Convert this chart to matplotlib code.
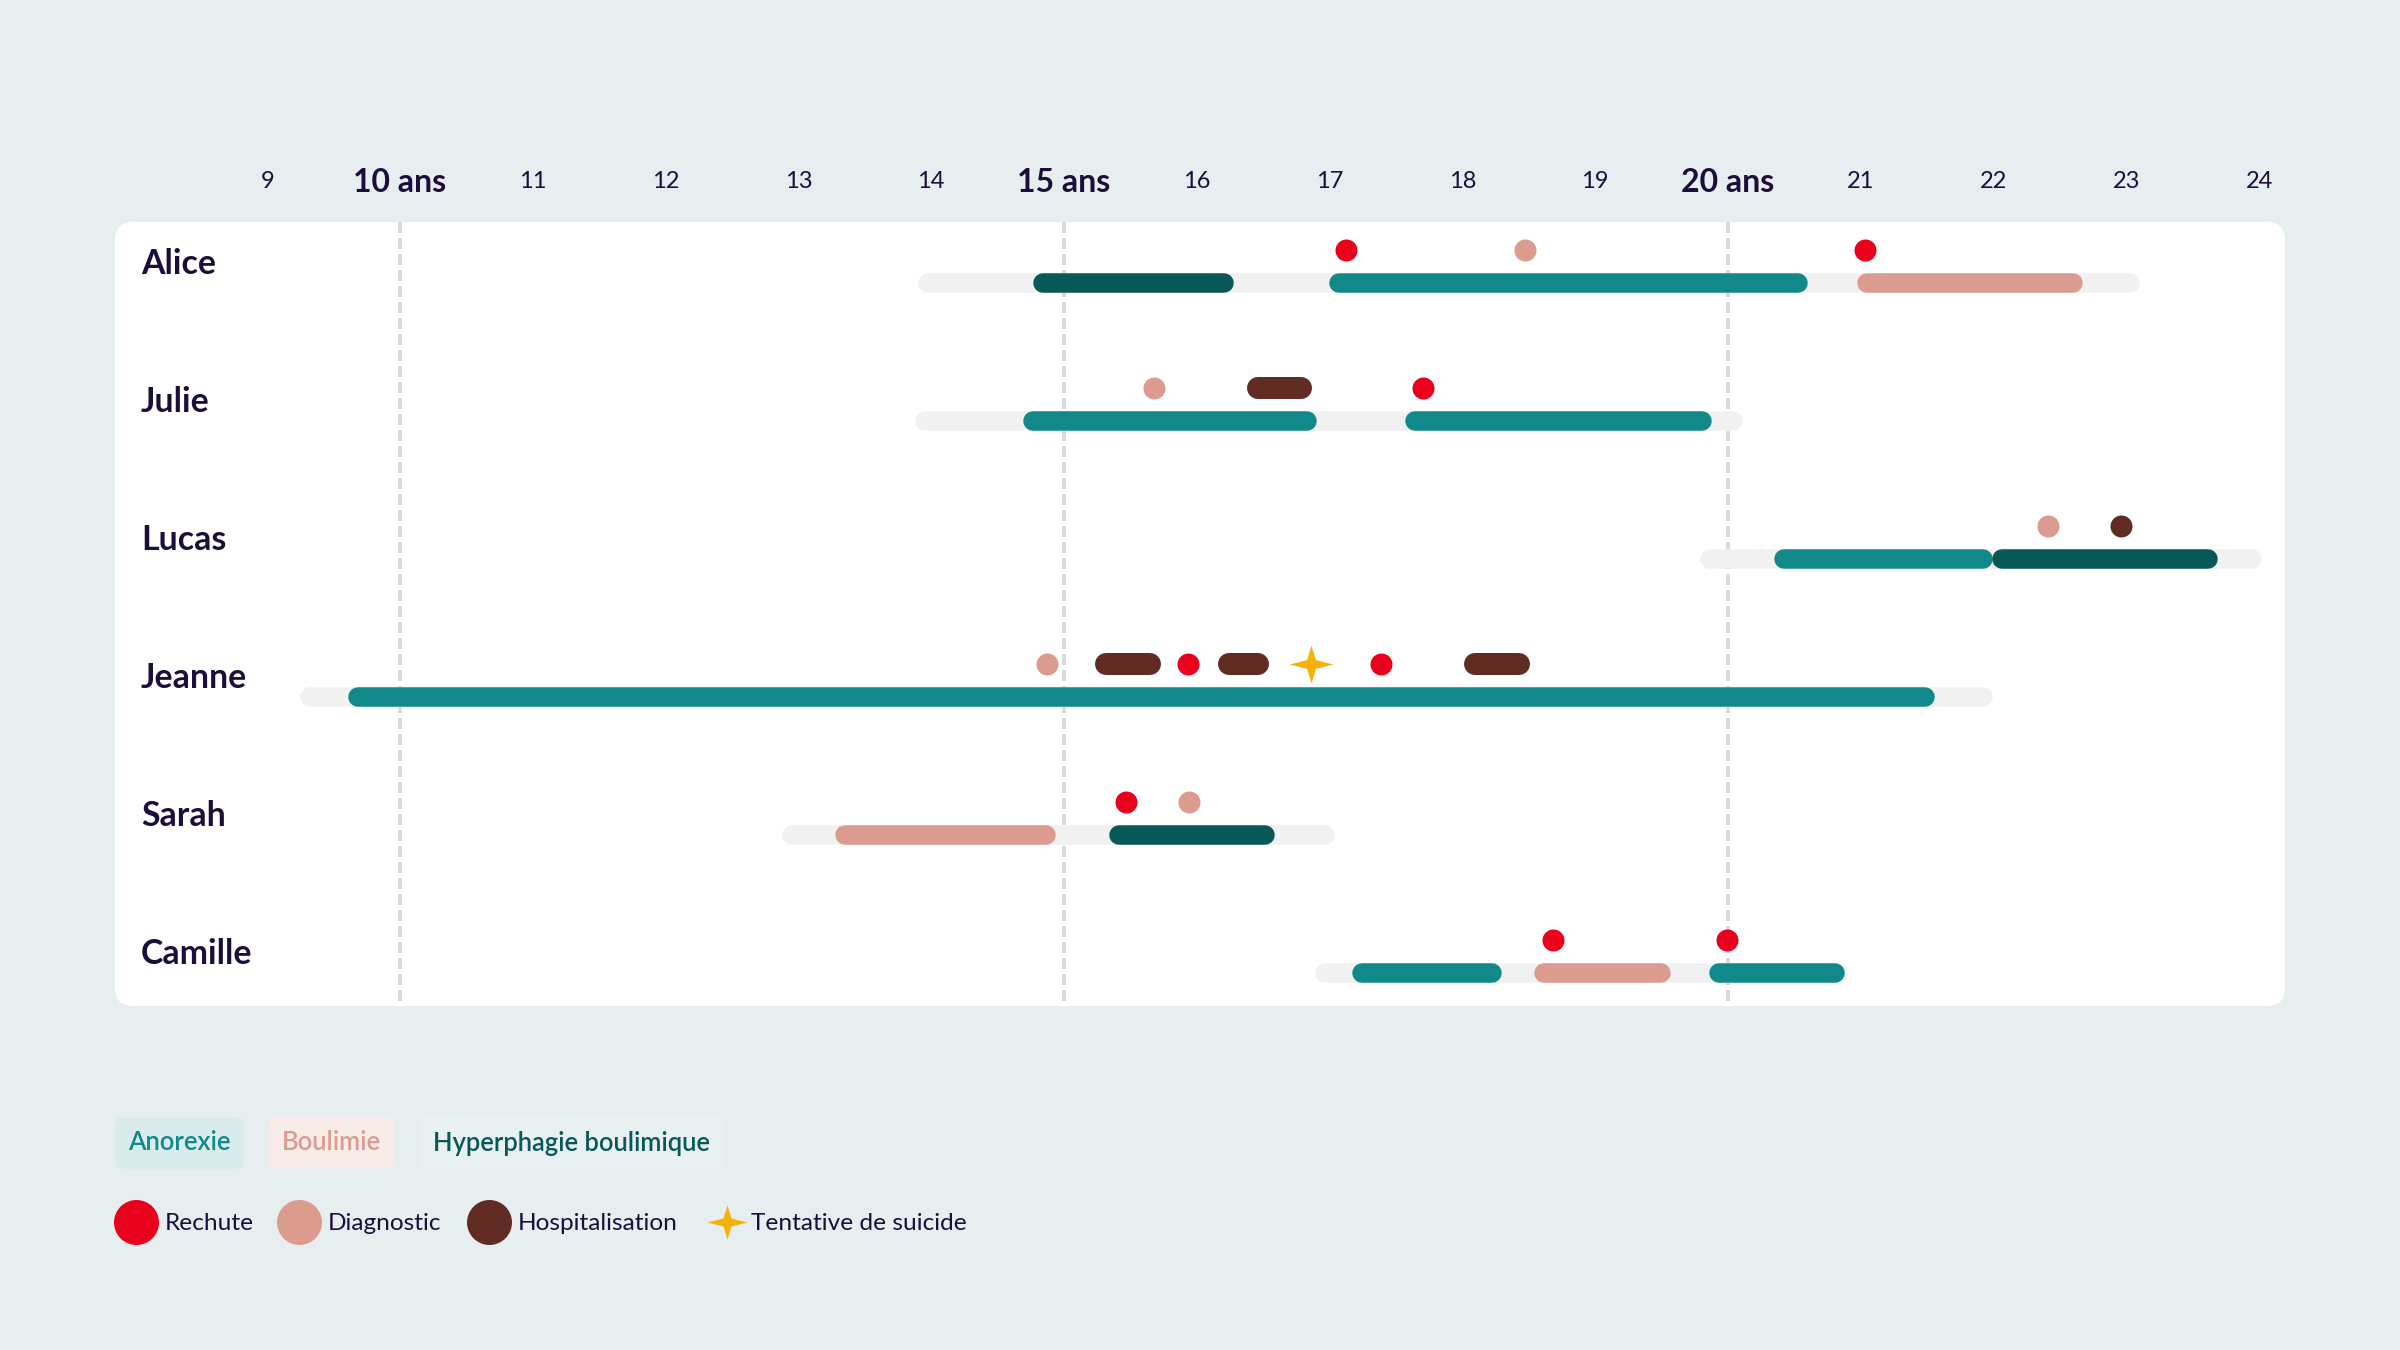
import matplotlib
matplotlib.use("Agg")
import matplotlib.pyplot as plt
import matplotlib.transforms as mtransforms
from matplotlib.patches import FancyBboxPatch
from matplotlib.path import Path

plt.rcParams["font.family"] = ["Lato", "DejaVu Sans"]

# --- data -----------------------------------------------------------------
patients = ["Alice", "Julie", "Lucas", "Jeanne", "Sarah", "Camille"]
follow_start = [13.90, 13.88, 19.79, 9.25, 12.88, 16.89]
follow_end = [23.10, 20.11, 24.02, 21.99, 17.04, 20.90]

disorders = ["Anorexie", "Boulimie", "Hyperphagie boulimique"]
disorder_colors = ["#11888A", "#DC9B8F", "#075857"]
disorder_fills = ["#D9ECEB", "#F7ECE8", "#E9F0F1"]

episode_patient = ["Alice", "Alice", "Alice", "Julie", "Julie", "Lucas", "Lucas",
                   "Jeanne", "Sarah", "Sarah", "Camille", "Camille", "Camille"]
episode_disorder = ["Hyperphagie boulimique", "Anorexie", "Boulimie",
                    "Anorexie", "Anorexie",
                    "Anorexie", "Hyperphagie boulimique",
                    "Anorexie",
                    "Boulimie", "Hyperphagie boulimique",
                    "Anorexie", "Boulimie", "Anorexie"]
episode_start = [14.77, 17.00, 20.97, 14.69, 17.57, 20.35, 21.99, 9.61,
                 13.28, 15.34, 17.17, 18.54, 19.86]
episode_end = [16.28, 20.60, 22.67, 16.90, 19.88, 21.99, 23.69, 21.56,
               14.94, 16.59, 18.30, 19.57, 20.88]

event_types = ["Rechute", "Diagnostic", "Hospitalisation", "Tentative de suicide"]
event_colors = ["#E8001C", "#DC9B8F", "#5F2B23", "#F5B30A"]

event_patient = ["Alice", "Alice", "Alice",
                 "Julie", "Julie", "Julie",
                 "Lucas", "Lucas",
                 "Jeanne", "Jeanne", "Jeanne", "Jeanne", "Jeanne", "Jeanne", "Jeanne",
                 "Sarah", "Sarah",
                 "Camille", "Camille"]
event_type = ["Rechute", "Diagnostic", "Rechute",
              "Diagnostic", "Hospitalisation", "Rechute",
              "Diagnostic", "Hospitalisation",
              "Diagnostic", "Hospitalisation", "Rechute", "Hospitalisation",
              "Tentative de suicide", "Rechute", "Hospitalisation",
              "Rechute", "Diagnostic",
              "Rechute", "Rechute"]
event_start = [17.12, 18.47, 21.03,
               15.68, 16.38, 17.70,
               22.41, 22.96,
               14.87, 15.23, 15.93, 16.16, 16.86, 17.39, 18.01,
               15.47, 15.94,
               18.68, 19.99]
event_end = [17.12, 18.47, 21.03,
             15.68, 16.87, 17.70,
             22.41, 22.96,
             14.87, 15.73, 15.93, 16.54, 16.86, 17.39, 18.51,
             15.47, 15.94,
             18.68, 19.99]

age_ticks = list(range(9, 25))
major_ages = [10, 15, 20]

# --- layout (pixels) ------------------------------------------------------
W, H, DPI = 2400, 1350, 200
PX = 72 / DPI                      # points per pixel
X10, PX_PER_YEAR = 400, 132.8      # where age 10 sits, scale
ROW0, ROW_PITCH = 283, 138         # first bar centre, row spacing
PANEL = (115, 222, 2285, 1006)
BAR_PX, DOT_PX, STAR_PX = 19.5, 22, 44
TEXT = "#1B0E3B"
BG = "#E6EEF0"


def rows(pix):
    return (pix - ROW0) / ROW_PITCH


star = Path([(0, 0.86), (0.2, 0.2), (1, 0), (0.2, -0.2), (0, -0.86),
             (-0.2, -0.2), (-1, 0), (-0.2, 0.2), (0, 0.86)],
            [Path.MOVETO] + [Path.LINETO] * 7 + [Path.CLOSEPOLY])

fig = plt.figure(figsize=(W / DPI, H / DPI), dpi=DPI, facecolor=BG)

# pixel-space background layer (panel + legend)
bg = fig.add_axes([0, 0, 1, 1], zorder=0)
bg.set_xlim(0, W)
bg.set_ylim(H, 0)
bg.axis("off")
x0, y0, x1, y1 = PANEL
bg.add_patch(FancyBboxPatch((x0, y0), x1 - x0, y1 - y0,
                            boxstyle="round,pad=0,rounding_size=18",
                            fc="white", ec="none"))

# data layer: x = age, y = row index
ax = fig.add_axes([0, 0, 1, 1], zorder=1)
ax.patch.set_visible(False)
ax.set_xlim(10 - X10 / PX_PER_YEAR, 10 + (W - X10) / PX_PER_YEAR)
ax.set_ylim(rows(H), rows(0))
ax.axis("off")

ax.vlines(major_ages, rows(y0), rows(y1), colors="#DADADA", lw=4 * PX,
          linestyles=(0, (2.75, 1.25)), zorder=1)

row_of = {p: i for i, p in enumerate(patients)}
cap = BAR_PX / 2 / PX_PER_YEAR
for i, (s, e) in enumerate(zip(follow_start, follow_end)):
    ax.plot([s + cap, e - cap], [i, i], color="#F1F1F1", lw=BAR_PX * PX,
            solid_capstyle="round", zorder=2)

dcol = dict(zip(disorders, disorder_colors))
for p, d, s, e in zip(episode_patient, episode_disorder, episode_start, episode_end):
    ax.plot([s + cap, e - cap], [row_of[p]] * 2, color=dcol[d], lw=BAR_PX * PX,
            solid_capstyle="round", zorder=3)

ecol = dict(zip(event_types, event_colors))
ev_y = rows(ROW0 - 33)
dcap = DOT_PX / 2 / PX_PER_YEAR
for p, t, s, e in zip(event_patient, event_type, event_start, event_end):
    y = row_of[p] + ev_y
    if t == "Tentative de suicide":
        ax.plot(s, y, marker=star, ms=STAR_PX * PX, color=ecol[t], mew=0, zorder=4)
    elif e > s:
        ax.plot([s + dcap, e - dcap], [y, y], color=ecol[t], lw=DOT_PX * PX,
                solid_capstyle="round", zorder=4)
    else:
        ax.plot(s, y, "o", ms=DOT_PX * PX, color=ecol[t], mew=0, zorder=4)

# age ticks
tick_y = rows(182)
for a in age_ticks:
    if a in major_ages:
        ax.text(a, tick_y, f"{a} ans", ha="center", va="center", fontsize=11.5,
                fontweight="bold", color=TEXT)
    else:
        ax.text(a, tick_y, str(a), ha="center", va="center", fontsize=8.5,
                color=TEXT)

# patient names
name_tr = mtransforms.blended_transform_factory(bg.transData, ax.transData)
for i, p in enumerate(patients):
    ax.text(141, i + rows(ROW0 - 19), p, transform=name_tr, ha="left",
            va="center", fontsize=12.2, fontweight="bold", color=TEXT)

# legend: disorders
for label, c, fill, lx in zip(disorders, disorder_colors, disorder_fills,
                              [128, 282, 433]):
    bg.text(lx, 1143, label, ha="left", va="center", fontsize=9.2,
            fontweight="semibold", color=c,
            bbox=dict(boxstyle="round,pad=0.52,rounding_size=0.3", fc=fill, ec="none"))

# legend: events
for t, c, mx, tx in zip(event_types, event_colors, [136, 299, 489, 727],
                        [165, 328, 518, 751]):
    if t == "Tentative de suicide":
        bg.plot(mx, 1222, marker=star, ms=40 * PX, color=c, mew=0)
    else:
        bg.plot(mx, 1222, "o", ms=45 * PX, color=c, mew=0)
    bg.text(tx, 1223, t, ha="left", va="center", fontsize=8.8, color=TEXT)

fig.savefig("out.png", dpi=DPI, facecolor=BG)
